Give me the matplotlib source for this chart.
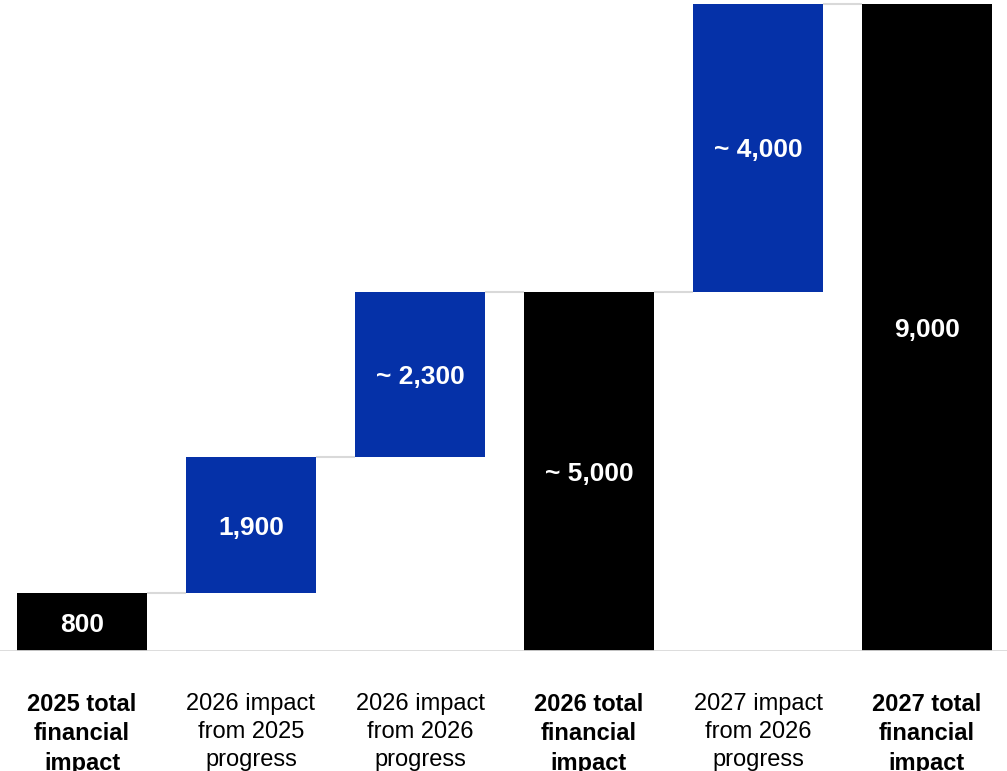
import numpy as np
import matplotlib.pyplot as plt

plt.rcParams['font.family'] = ['Liberation Sans', 'DejaVu Sans']

# waterfall data
categories = ['2025 total\nfinancial\nimpact',
              '2026 impact\nfrom 2025\nprogress',
              '2026 impact\nfrom 2026\nprogress',
              '2026 total\nfinancial\nimpact',
              '2027 impact\nfrom 2026\nprogress',
              '2027 total\nfinancial\nimpact']
values = [800, 1900, 2300, 5000, 4000, 9000]
is_total = [True, False, False, True, False, True]
value_labels = ['800', '1,900', '~ 2,300', '~ 5,000', '~ 4,000', '9,000']

blue = '#0531a8'
grey = '#d9d9d9'

# bottoms of each bar
bottoms = []
running = 0
for v, t in zip(values, is_total):
    if t:
        bottoms.append(0)
        running = v
    else:
        bottoms.append(running)
        running += v
tops = [b + v for b, v in zip(bottoms, values)]

fig = plt.figure(figsize=(10.07, 7.71), dpi=100)
ax = fig.add_axes([0, 120/771, 1, 651/771])

x = np.arange(len(values))
w = 130/169
colors = ['black' if t else blue for t in is_total]
ax.bar(x, values, bottom=bottoms, width=w, color=colors, zorder=2)

# connector lines
for i in range(len(values) - 1):
    ax.plot([x[i] + w/2, x[i+1] - w/2], [tops[i], tops[i]],
            color=grey, lw=1.5, zorder=1, solid_capstyle='butt')

# value labels inside bars
for i in range(len(values)):
    ax.text(x[i], bottoms[i] + values[i]/2, value_labels[i], color='white',
            fontsize=19, fontweight='bold', ha='center', va='center_baseline')

# category labels
for i, c in enumerate(categories):
    ax.annotate(c, xy=(x[i], 0), xycoords='data', xytext=(0, -30),
                textcoords='offset points', ha='center', va='top',
                fontsize=17, fontweight='bold' if is_total[i] else 'normal',
                linespacing=1.36, annotation_clip=False)

ax.axhline(0, color=grey, lw=2, zorder=3)
ax.set_xlim(-82/169, (1007-82)/169)
ax.set_ylim(0, 651/0.0719)
ax.axis('off')

fig.savefig('out.png', dpi=100)
